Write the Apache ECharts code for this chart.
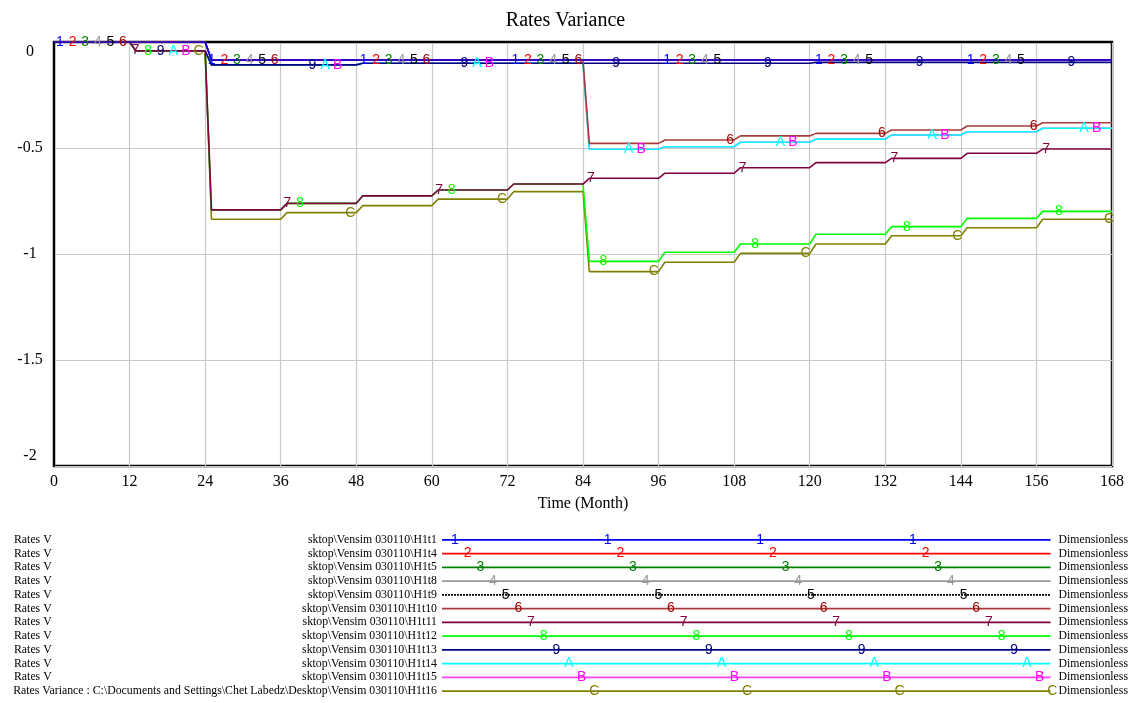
<!DOCTYPE html>
<html>
<head>
<meta charset="utf-8">
<script src="https://cdn.jsdelivr.net/npm/echarts@6/dist/echarts.min.js"></script>
<style>
  html, body { margin: 0; padding: 0; background: #fff; }
  #main { width: 1131px; height: 703px; }
</style>
</head>
<body>
<div id="main"></div>
<script>
// start month of each 12-month period, and the end of the run
var periodStarts = [0, 12, 24, 36, 48, 60, 72, 84, 96, 108, 120, 132, 144, 156];
var endTime = 168;
var xTicks = [0, 12, 24, 36, 48, 60, 72, 84, 96, 108, 120, 132, 144, 156, 168];
var yTicks = [0, -0.5, -1, -1.5, -2];

// marker letters and run names
var markers = ["1", "2", "3", "4", "5", "6", "7", "8", "9", "A", "B", "C"];
var runs = ["H1t1", "H1t4", "H1t5", "H1t8", "H1t9", "H1t10", "H1t11", "H1t12", "H1t13", "H1t14", "H1t15", "H1t16"];

// level of Rates Variance in each period
var h1t1  = [0, 0, -0.085, -0.085, -0.085, -0.085, -0.085, -0.085, -0.085, -0.085, -0.085, -0.085, -0.085, -0.085];
var h1t4  = [0, 0, -0.085, -0.085, -0.085, -0.085, -0.085, -0.085, -0.085, -0.085, -0.085, -0.085, -0.085, -0.085];
var h1t5  = [0, 0, -0.085, -0.085, -0.085, -0.085, -0.085, -0.085, -0.085, -0.085, -0.085, -0.085, -0.085, -0.085];
var h1t8  = [0, 0, -0.085, -0.085, -0.085, -0.085, -0.085, -0.085, -0.085, -0.085, -0.085, -0.085, -0.085, -0.085];
var h1t9  = [0, 0, -0.085, -0.085, -0.085, -0.085, -0.085, -0.085, -0.085, -0.085, -0.085, -0.085, -0.085, -0.085];
var h1t10 = [0, 0, -0.085, -0.085, -0.085, -0.085, -0.085, -0.478, -0.462, -0.443, -0.431, -0.415, -0.396, -0.381];
var h1t11 = [0, -0.042, -0.792, -0.761, -0.726, -0.698, -0.670, -0.643, -0.619, -0.593, -0.569, -0.549, -0.525, -0.505];
var h1t12 = [0, -0.042, -0.792, -0.761, -0.726, -0.698, -0.670, -1.035, -0.992, -0.953, -0.907, -0.871, -0.832, -0.799];
var h1t13 = [0, -0.042, -0.108, -0.108, -0.100, -0.100, -0.100, -0.100, -0.100, -0.100, -0.096, -0.096, -0.096, -0.096];
var h1t14 = [0, -0.042, -0.108, -0.108, -0.100, -0.100, -0.100, -0.506, -0.494, -0.473, -0.458, -0.439, -0.423, -0.407];
var h1t15 = [0, -0.042, -0.108, -0.108, -0.100, -0.100, -0.100, -0.506, -0.494, -0.473, -0.458, -0.439, -0.423, -0.407];
var h1t16 = [0, -0.042, -0.836, -0.805, -0.772, -0.741, -0.706, -1.083, -1.039, -0.997, -0.953, -0.914, -0.876, -0.836];

var levels = [h1t1, h1t4, h1t5, h1t8, h1t9, h1t10, h1t11, h1t12, h1t13, h1t14, h1t15, h1t16];

var lineColors = ["#0000ff", "#ff0000", "#008000", "#999999", "#000000", "#a83c3c",
                  "#800040", "#00ff00", "#000080", "#00ffff", "#ff40ff", "#808000"];
var textColors = ["#0000ff", "#ff0000", "#008000", "#999999", "#000000", "#a00000",
                  "#800040", "#00ff00", "#000080", "#00ffff", "#ff00ff", "#808000"];

var serif = "Liberation Serif";
var sans = "Liberation Sans";

// vensim draws a change over one month
function stepData(lv) {
  var pts = [[periodStarts[0], lv[0]]];
  for (var k = 1; k < lv.length; k++) {
    pts.push([periodStarts[k], lv[k - 1]]);
    pts.push([periodStarts[k] + 1, lv[k]]);
  }
  pts.push([endTime, lv[lv.length - 1]]);
  return pts;
}

function valueAt(lv, t) {
  var k = Math.min(Math.floor(t / 12), lv.length - 1);
  var f = t - periodStarts[k];
  if (k > 0 && f < 1) return lv[k - 1] + (lv[k] - lv[k - 1]) * f;
  return lv[k];
}

function markerPoints(data, idx) {
  return {
    symbol: "rect", symbolSize: 1, silent: true, animation: false, z: 40,
    itemStyle: { color: "rgba(0,0,0,0)" },
    label: { show: true, position: "inside", formatter: markers[idx], color: textColors[idx],
             fontFamily: sans, fontSize: 14 },
    data: data
  };
}

var series = [];
for (var i = 0; i < markers.length; i++) {
  var lv = levels[i];
  var pts = [];
  for (var t = 0.95 + 2 * i; t <= endTime; t += 24.1) {
    pts.push({ coord: [t, valueAt(lv, t)] });
  }
  var style = { color: lineColors[i], width: 1.6, type: i === 4 ? [2, 1] : "solid" };
  series.push({
    type: "line", name: runs[i], data: stepData(lv), showSymbol: false, symbol: "none",
    lineStyle: style, z: 20 - i, animation: false,
    markPoint: markerPoints(pts, i)
  });

  // key line in the table under the plot
  var keyPts = [];
  for (var x = 13 + 12.7 * i; x <= 616; x += 153) keyPts.push({ coord: [x, i] });
  series.push({
    type: "line", xAxisIndex: 1, yAxisIndex: 1, data: [[0, i], [610, i]],
    showSymbol: false, symbol: "none", lineStyle: style, animation: false,
    markPoint: markerPoints(keyPts, i)
  });
}

var pathLabels = runs.map(function (r, i) {
  if (i === runs.length - 1) {
    return "Rates Variance : C:\\Documents and Settings\\Chet Labedz\\Desktop\\Vensim 030110\\" + r;
  }
  return "sktop\\Vensim 030110\\" + r;
});
var varLabels = runs.map(function (r, i) { return i === runs.length - 1 ? "" : "Rates V"; });
var unitLabels = runs.map(function () { return "Dimensionless"; });

var chart = echarts.init(document.getElementById("main"));
var option = {
  animation: false,
  textStyle: { fontFamily: serif },
  title: {
    text: "Rates Variance", left: "center", top: 6,
    textStyle: { fontFamily: serif, fontSize: 20, fontWeight: "normal", color: "#000" }
  },
  grid: [
    { left: 54, right: 19, top: 42, bottom: 237, show: true, borderColor: "#000", borderWidth: 2.5 },
    { left: 442, right: 69, top: 533, height: 165 }
  ],
  xAxis: [
    {
      type: "value", min: xTicks[0], max: xTicks[xTicks.length - 1], interval: 12,
      name: "Time (Month)", nameLocation: "middle", nameGap: 30,
      nameTextStyle: { fontFamily: serif, fontSize: 16, color: "#000" },
      axisLine: { lineStyle: { color: "#000", width: 2 } },
      axisTick: { show: false },
      axisLabel: { fontFamily: serif, fontSize: 16, color: "#000", margin: 8 },
      splitLine: { show: true, lineStyle: { color: "#c8c8c8", width: 1.2 } }
    },
    { type: "value", gridIndex: 1, min: 0, max: 620, show: false }
  ],
  yAxis: [
    {
      type: "value", min: yTicks[yTicks.length - 1], max: yTicks[0], interval: 0.5,
      axisLine: { show: true, lineStyle: { color: "#000", width: 2 } },
      axisTick: { show: false },
      axisLabel: {
        fontFamily: serif, fontSize: 16, color: "#000", align: "center", margin: 24,
        formatter: function (v) {
          if (v === 0) return "{top|0}";
          if (v === -2) return "{bot|-2}";
          return String(v);
        },
        rich: {
          top: { fontFamily: serif, fontSize: 16, color: "#000", padding: [20, 0, 0, 0] },
          bot: { fontFamily: serif, fontSize: 16, color: "#000", padding: [0, 0, 20, 0] }
        }
      },
      splitLine: { show: true, lineStyle: { color: "#c8c8c8", width: 1.2 } }
    },
    {
      type: "category", gridIndex: 1, data: pathLabels, inverse: true, position: "left",
      axisLine: { show: false }, axisTick: { show: false },
      axisLabel: { interval: 0, fontFamily: serif, fontSize: 11.8, color: "#000", margin: 5 }
    },
    {
      type: "category", gridIndex: 1, data: varLabels, inverse: true, position: "left",
      axisLine: { show: false }, axisTick: { show: false },
      axisLabel: { interval: 0, fontFamily: serif, fontSize: 11.8, color: "#000", margin: 428, align: "left" }
    },
    {
      type: "category", gridIndex: 1, data: unitLabels, inverse: true, position: "right", offset: -10,
      axisLine: { show: false }, axisTick: { show: false },
      axisLabel: { interval: 0, fontFamily: serif, fontSize: 11.8, color: "#000", margin: 8 }
    }
  ],
  series: series
};
chart.setOption(option);
</script>
</body>
</html>
